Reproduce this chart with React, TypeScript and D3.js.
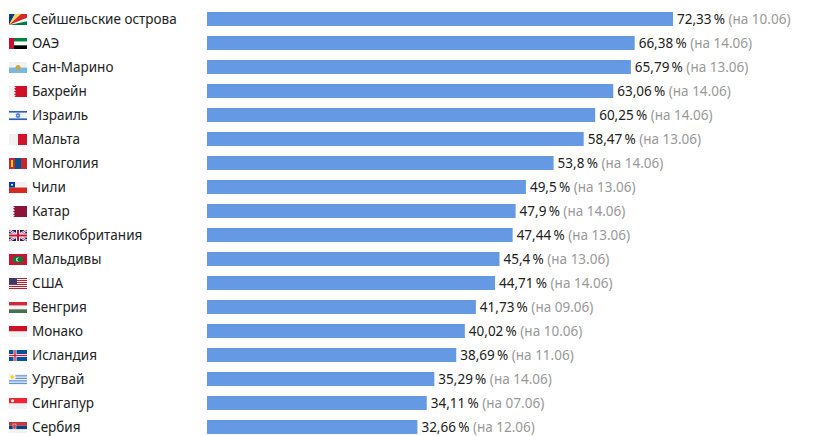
import React from 'react';
import * as d3 from 'd3';

const countries = [
  'Сейшельские острова', 'ОАЭ', 'Сан-Марино', 'Бахрейн', 'Израиль', 'Мальта',
  'Монголия', 'Чили', 'Катар', 'Великобритания', 'Мальдивы', 'США', 'Венгрия',
  'Монако', 'Исландия', 'Уругвай', 'Сингапур', 'Сербия',
];
const shares = [
  72.33, 66.38, 65.79, 63.06, 60.25, 58.47, 53.8, 49.5, 47.9, 47.44, 45.4, 44.71,
  41.73, 40.02, 38.69, 35.29, 34.11, 32.66,
];
const dates = [
  '10.06', '14.06', '13.06', '14.06', '14.06', '13.06', '14.06', '13.06', '14.06',
  '13.06', '13.06', '14.06', '09.06', '10.06', '11.06', '14.06', '07.06', '12.06',
];
const flags = [
  'sc', 'ae', 'sm', 'bh', 'il', 'mt', 'mn', 'cl', 'qa', 'gb', 'mv', 'us', 'hu',
  'mc', 'is', 'uy', 'sg', 'rs',
];

const W = 831;
const H = 436;
const FW = 18;
const FH = 11;
const FONT = "'Noto Sans', sans-serif";

function Flag({ code }: { code: string }) {
  const h3 = FH / 3;
  switch (code) {
    case 'sc':
      return (
        <g>
          <rect width={FW} height={FH} fill="#fff" />
          <polygon points={`0,${FH} 0,0 ${FW * 0.33},0`} fill="#003f87" />
          <polygon points={`0,${FH} ${FW * 0.33},0 ${FW * 0.66},0`} fill="#fcd856" />
          <polygon points={`0,${FH} ${FW * 0.66},0 ${FW},0 ${FW},${FH * 0.33}`} fill="#d62828" />
          <polygon points={`0,${FH} ${FW},${FH * 0.66} ${FW},${FH}`} fill="#007a3d" />
        </g>
      );
    case 'ae':
      return (
        <g>
          <rect width={FW} height={h3} fill="#00843d" />
          <rect y={h3} width={FW} height={h3} fill="#fff" />
          <rect y={2 * h3} width={FW} height={h3} fill="#000" />
          <rect width={5} height={FH} fill="#c8102e" />
        </g>
      );
    case 'sm':
      return (
        <g>
          <rect width={FW} height={FH / 2} fill="#f2f2f2" />
          <rect y={FH / 2} width={FW} height={FH / 2} fill="#7ab8e0" />
          <circle cx={FW / 2} cy={FH / 2} r={2.5} fill="#c9a640" />
        </g>
      );
    case 'bh':
      return (
        <g>
          <rect width={FW} height={FH} fill="#ce1126" />
          <polygon
            points={`0,0 5,0 7,1.4 5,2.8 7,4.2 5,5.6 7,7 5,8.4 7,9.8 5,${FH} 0,${FH}`}
            fill="#f2f2f2"
          />
        </g>
      );
    case 'il':
      return (
        <g>
          <rect width={FW} height={FH} fill="#f4f4f4" />
          <rect y={1} width={FW} height={1.6} fill="#2a5fbf" />
          <rect y={FH - 2.6} width={FW} height={1.6} fill="#2a5fbf" />
          <polygon points="9,3.3 11,7 7,7" fill="none" stroke="#2a5fbf" strokeWidth={0.7} />
          <polygon points="9,7.8 11,4.1 7,4.1" fill="none" stroke="#2a5fbf" strokeWidth={0.7} />
        </g>
      );
    case 'mt':
      return (
        <g>
          <rect width={FW} height={FH} fill="#f2f2f2" />
          <rect x={FW / 2} width={FW / 2} height={FH} fill="#cf142b" />
        </g>
      );
    case 'mn':
      return (
        <g>
          <rect width={FW} height={FH} fill="#c4272f" />
          <rect x={6} width={6} height={FH} fill="#015197" />
          <rect x={2} y={2} width={2} height={7} fill="#f9cf02" />
        </g>
      );
    case 'cl':
      return (
        <g>
          <rect width={FW} height={FH / 2} fill="#f2f2f2" />
          <rect y={FH / 2} width={FW} height={FH / 2} fill="#d52b1e" />
          <rect width={6} height={FH / 2} fill="#0039a6" />
          <circle cx={3} cy={FH / 4} r={1} fill="#fff" />
        </g>
      );
    case 'qa':
      return (
        <g>
          <rect width={FW} height={FH} fill="#8a1538" />
          <polygon
            points={`0,0 4,0 6,1.4 4,2.8 6,4.2 4,5.6 6,7 4,8.4 6,9.8 4,${FH} 0,${FH}`}
            fill="#f2f2f2"
          />
        </g>
      );
    case 'gb':
      return (
        <g>
          <rect width={FW} height={FH} fill="#012169" />
          <line x1={0} y1={0} x2={FW} y2={FH} stroke="#fff" strokeWidth={2.2} />
          <line x1={FW} y1={0} x2={0} y2={FH} stroke="#fff" strokeWidth={2.2} />
          <line x1={0} y1={0} x2={FW} y2={FH} stroke="#c8102e" strokeWidth={0.8} />
          <line x1={FW} y1={0} x2={0} y2={FH} stroke="#c8102e" strokeWidth={0.8} />
          <rect x={7} width={4} height={FH} fill="#fff" />
          <rect y={3.5} width={FW} height={4} fill="#fff" />
          <rect x={8} width={2} height={FH} fill="#c8102e" />
          <rect y={4.5} width={FW} height={2} fill="#c8102e" />
        </g>
      );
    case 'mv':
      return (
        <g>
          <rect width={FW} height={FH} fill="#d21034" />
          <rect x={4} y={2.5} width={10} height={6} fill="#007e3a" />
          <circle cx={9} cy={FH / 2} r={2} fill="#fff" />
          <circle cx={9.9} cy={FH / 2} r={1.7} fill="#007e3a" />
        </g>
      );
    case 'us':
      return (
        <g>
          <rect width={FW} height={FH} fill="#f2f2f2" />
          {d3.range(0, 6).map((i) => (
            <rect key={i} y={i * 2} width={FW} height={1} fill="#b22234" />
          ))}
          <rect width={8} height={6} fill="#3c3b6e" />
        </g>
      );
    case 'hu':
      return (
        <g>
          <rect width={FW} height={h3} fill="#ce2939" />
          <rect y={h3} width={FW} height={h3} fill="#f2f2f2" />
          <rect y={2 * h3} width={FW} height={h3} fill="#477050" />
        </g>
      );
    case 'mc':
    case 'sg':
      return (
        <g>
          <rect width={FW} height={FH / 2} fill={code === 'mc' ? '#ce1126' : '#ee2536'} />
          <rect y={FH / 2} width={FW} height={FH / 2} fill="#f2f2f2" />
          {code === 'sg' && <circle cx={3.5} cy={2.7} r={1.5} fill="#fff" />}
        </g>
      );
    case 'is':
      return (
        <g>
          <rect width={FW} height={FH} fill="#02529c" />
          <rect x={4.5} width={3} height={FH} fill="#fff" />
          <rect y={4} width={FW} height={3} fill="#fff" />
          <rect x={5.3} width={1.4} height={FH} fill="#dc1e35" />
          <rect y={4.8} width={FW} height={1.4} fill="#dc1e35" />
        </g>
      );
    case 'uy':
      return (
        <g>
          <rect width={FW} height={FH} fill="#f2f2f2" />
          {d3.range(0, 4).map((i) => (
            <rect key={i} y={1.25 + i * 2.5} width={FW} height={1.2} fill="#5a8fd6" />
          ))}
          <rect width={6.5} height={6} fill="#f2f2f2" />
          <circle cx={3.2} cy={3} r={1.8} fill="#fcd116" />
        </g>
      );
    case 'rs':
      return (
        <g>
          <rect width={FW} height={h3} fill="#c6363c" />
          <rect y={h3} width={FW} height={h3} fill="#0c4076" />
          <rect y={2 * h3} width={FW} height={h3} fill="#f2f2f2" />
          <rect x={4} y={2} width={3} height={5} fill="#c6363c" stroke="#f2f2f2" strokeWidth={0.5} />
        </g>
      );
    default:
      return <rect width={FW} height={FH} fill="#ccc" />;
  }
}

export default function App() {
  const x = d3.scaleLinear().domain([0, 72.33]).range([207, 673]);
  const y = d3
    .scaleBand()
    .domain(countries)
    .range([12 - 5, 12 - 5 + 24 * countries.length])
    .paddingInner(10 / 24)
    .paddingOuter(5 / 24);

  const fmt = (v: number) => String(v).replace('.', ',');

  return (
    <div style={{ position: 'absolute', left: 0, top: 0 }}>
      <svg width={W} height={H} style={{ display: 'block' }}>
        <rect width={W} height={H} fill="#fff" />
        {countries.map((c, i) => {
          const by = y(c)!;
          const cy = by + y.bandwidth() / 2;
          const v = shares[i];
          return (
            <g key={c}>
              <g transform={`translate(9,${cy - FH / 2 + 0.5})`}>
                <Flag code={flags[i]} />
              </g>
              <text x={32} y={cy} dy="0.36em" fontFamily={FONT} fontSize={13.5} fill="#222">
                {c}
              </text>
              <rect
                x={x(0)}
                y={by}
                width={x(v) - x(0)}
                height={y.bandwidth()}
                fill="#6699e3"
              />
              <text x={x(v) + 4} y={cy} dy="0.36em" fontFamily={FONT} fontSize={13.5} fill="#222">
                {fmt(v)}
                {'\u2009%'}
                <tspan fill="#999"> (на {dates[i]})</tspan>
              </text>
            </g>
          );
        })}
      </svg>
    </div>
  );
}
